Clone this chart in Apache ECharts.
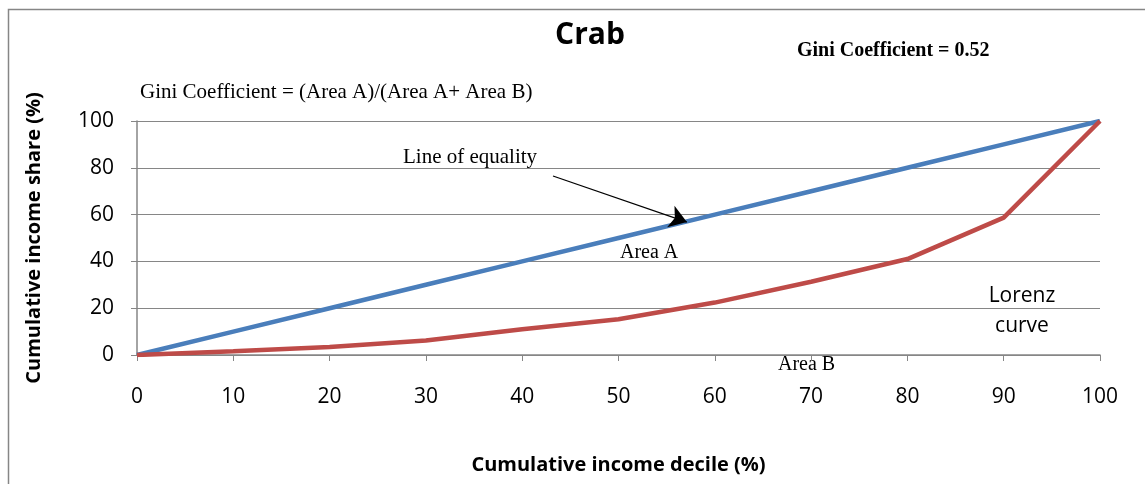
<!DOCTYPE html>
<html>
<head>
<meta charset="utf-8">
<script src="https://cdn.jsdelivr.net/npm/echarts@6/dist/echarts.min.js"></script>
<style>html,body{margin:0;padding:0;background:#fff}#c{width:1145px;height:484px}</style>
</head>
<body>
<div id="c"></div>
<script>
var deciles = [0, 10, 20, 30, 40, 50, 60, 70, 80, 90, 100];
var equality = [0, 10, 20, 30, 40, 50, 60, 70, 80, 90, 100];
var lorenz = [0, 1.6, 3.4, 6.2, 11, 15.3, 22.4, 31.3, 41, 58.7, 100];
var yTicks = [0, 20, 40, 60, 80, 100];
var arrowFrom = [43.2, 76.5];
var arrowTo = [57.1, 56.8];

var chart = echarts.init(document.getElementById('c'));
var sans = '"Open Sans", "Noto Sans", sans-serif';
var serif = '"Liberation Serif", "DejaVu Serif", serif';
chart.setOption({
  animation: false,
  backgroundColor: '#fff',
  grid: { left: 137, right: 45, top: 121, bottom: 129 },
  xAxis: {
    type: 'value', min: 0, max: 100, interval: 10,
    name: 'Cumulative income decile (%)', nameLocation: 'middle', nameGap: 100,
    nameTextStyle: { fontFamily: sans, fontWeight: 'bold', fontSize: 20, color: '#000' },
    axisLine: { show: true, lineStyle: { color: '#868686', width: 1.5 } },
    axisTick: { show: true, length: 6, lineStyle: { color: '#868686' } },
    axisLabel: { fontFamily: sans, fontSize: 21, color: '#000', margin: 32 },
    splitLine: { show: false }
  },
  yAxis: {
    type: 'value', min: 0, max: 100, interval: 20,
    name: 'Cumulative income share (%)', nameLocation: 'middle', nameGap: 93, nameRotate: 90,
    nameTextStyle: { fontFamily: sans, fontWeight: 'bold', fontSize: 20, color: '#000' },
    axisLine: { show: true, lineStyle: { color: '#868686', width: 1.5 } },
    axisTick: { show: true, length: 6, lineStyle: { color: '#868686' } },
    axisLabel: { fontFamily: sans, fontSize: 21, color: '#000', margin: 23,
      formatter: function (v) { return yTicks.indexOf(v) >= 0 ? String(v) : ''; } },
    splitLine: { show: true, lineStyle: { color: '#868686', width: 1.2 } }
  },
  series: [
    {
      name: 'Line of equality', type: 'line', showSymbol: false, symbol: 'none',
      data: deciles.map(function (d, i) { return [d, equality[i]]; }),
      lineStyle: { color: '#4a7ebb', width: 4.5 }, itemStyle: { color: '#4a7ebb' },
      markLine: {
        silent: true, symbol: ['none', 'arrow'], symbolSize: 17,
        label: { show: false },
        itemStyle: { color: '#000' },
        lineStyle: { color: '#000', width: 1.3, type: 'solid' },
        emphasis: { disabled: true },
        data: [[{ coord: arrowFrom }, { coord: arrowTo }]]
      }
    },
    {
      name: 'Lorenz curve', type: 'line', showSymbol: false, symbol: 'none',
      data: deciles.map(function (d, i) { return [d, lorenz[i]]; }),
      lineStyle: { color: '#be4b48', width: 4.5 }, itemStyle: { color: '#be4b48' }
    }
  ],
  graphic: [
    { type: 'rect', left: 6, top: 7, shape: { width: 1160, height: 500 },
      style: { fill: 'none', stroke: '#868686', lineWidth: 1.5 }, z: -1 },
    { type: 'text', x: 590, y: 20,
      style: { text: 'Crab', font: 'bold 30px ' + sans, fill: '#000', align: 'center' } },
    { type: 'text', left: 797, top: 41,
      style: { text: 'Gini Coefficient = 0.52', font: 'bold 20px ' + serif, fill: '#000' } },
    { type: 'text', left: 140, top: 82,
      style: { text: 'Gini Coefficient = (Area A)/(Area A+ Area B)', font: '21px ' + serif, fill: '#000' } },
    { type: 'text', left: 403, top: 147,
      style: { text: 'Line of equality', font: '21px ' + serif, fill: '#000' } },
    { type: 'text', left: 620, top: 243,
      style: { text: 'Area A', font: '20px ' + serif, fill: '#000' } },
    { type: 'text', left: 778, top: 355,
      style: { text: 'Area B', font: '20px ' + serif, fill: '#000' } },
    { type: 'text', x: 1022, y: 281,
      style: { text: 'Lorenz\ncurve', font: '21px ' + sans, fill: '#000', align: 'center', lineHeight: 30 } }
  ]
});
</script>
</body>
</html>
